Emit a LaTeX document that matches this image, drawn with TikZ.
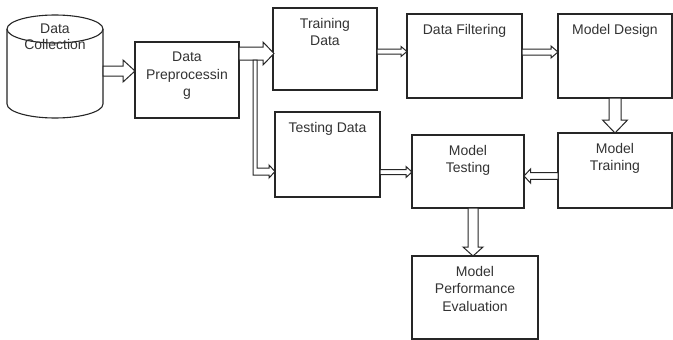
\documentclass[tikz,border=0pt]{standalone}
\usepackage{fontspec}
\setmainfont{Liberation Sans}
\usetikzlibrary{calc}
\tikzset{
  box/.style={draw=black!85, line width=1.1pt, fill=white, inner sep=0pt, outer sep=0pt, rectangle},
  lbl/.style={anchor=north, align=center, inner sep=0pt, yshift=-10pt, font=\fontsize{14}{17.5}\selectfont, text=black!80},
  blockarrow/.style={draw=black!85, line width=1pt, fill=white, line join=miter},
}
\newcommand\barrow[5]{%
  \coordinate (ba-s) at #1;
  \coordinate (ba-e) at #2;
  \coordinate (ba-h) at ($(ba-e)!#5!(ba-s)$);
  \draw[blockarrow] ($(ba-s)!#3!90:(ba-e)$) -- ($(ba-h)!#3!-90:(ba-s)$) -- ($(ba-h)!#4!-90:(ba-s)$) -- (ba-e) -- ($(ba-h)!#4!90:(ba-s)$) -- ($(ba-h)!#3!90:(ba-s)$) -- ($(ba-s)!#3!-90:(ba-e)$) -- cycle;
}
\begin{document}
\begin{tikzpicture}[x=1pt,y=-1pt]
\useasboundingbox[fill=white] (0,0) rectangle (673,340);
% cylinder
\node[rectangle, minimum width=96pt, minimum height=103pt, inner sep=0pt, outer sep=0pt] (dc) at (55,66.5) {};
\draw[box] (7,29) -- (7,104) arc[start angle=180, end angle=0, x radius=48, y radius=14] -- (103,29);
\draw[box] (55,29) ellipse[x radius=48, y radius=14];
\node[font=\fontsize{14}{16}\selectfont, text=black!80, align=center, inner sep=0pt] (dctext) at (55,37) {Data\\Collection};
% boxes
\node[box, minimum width=104pt, minimum height=76pt, label={[lbl]north:Data\\Preprocessin\\g}] (pre) at (187,80) {};
\node[box, minimum width=104pt, minimum height=82pt, label={[lbl]north:Training\\Data}] (train) at (325,49) {};
\node[box, minimum width=105pt, minimum height=85pt, label={[lbl]north:Testing Data}] (test) at (327.5,154.5) {};
\node[box, minimum width=115pt, minimum height=84pt, label={[lbl]north:Data Filtering}] (filt) at (464.5,56) {};
\node[box, minimum width=114pt, minimum height=84pt, label={[lbl]north:Model Design}] (design) at (615,56) {};
\node[box, minimum width=114pt, minimum height=75pt, label={[lbl]north:Model\\Training}] (mtrain) at (615,170.5) {};
\node[box, minimum width=112pt, minimum height=73pt, label={[lbl]north:Model\\Testing}] (mtest) at (468,171.5) {};
\node[box, minimum width=126pt, minimum height=83pt, label={[lbl]north:Model\\Performance\\Evaluation}] (mpe) at (475,297.5) {};
% arrows
\barrow{($(dc.east)+(0,4.5)$)}{($(pre.west)+(0,-9)$)}{5pt}{11pt}{12pt}
\barrow{($(pre.east)+(0,-26.5)$)}{($(train.west)+(1,4.5)$)}{6.5pt}{11.5pt}{11pt}
\draw[blockarrow] ($(pre.east)+(14,-20)$) -- ($(pre.east |- test.west)+(14,20.5)$) -- ($(test.west)+(-6,20.5)$) -- ($(test.west)+(-6,23.5)$) -- ($(test.west)+(0,17)$) -- ($(test.west)+(-6,10.5)$) -- ($(test.west)+(-6,13.5)$) -- ($(pre.east |- test.west)+(18,13.5)$) -- ($(pre.east)+(18,-20)$) -- cycle;
\barrow{($(train.east)+(0,2.5)$)}{($(filt.west)+(0,-4.5)$)}{2.5pt}{5pt}{6pt}
\barrow{($(filt.east)+(0,-4)$)}{($(design.west)+(0,-4)$)}{3pt}{6pt}{7pt}
\barrow{($(test.east)+(0,17.5)$)}{($(mtest.west)+(0,0.5)$)}{2.5pt}{5.5pt}{6pt}
\barrow{(design.south)}{(mtrain.north)}{6pt}{12.5pt}{13pt}
\barrow{($(mtrain.west)+(0,5.5)$)}{($(mtest.east)+(0,4.5)$)}{3.3pt}{7pt}{6.5pt}
\barrow{($(mtest.south)+(5,0)$)}{($(mpe.north)+(-2,0)$)}{5pt}{10pt}{9pt}
\end{tikzpicture}
\end{document}
